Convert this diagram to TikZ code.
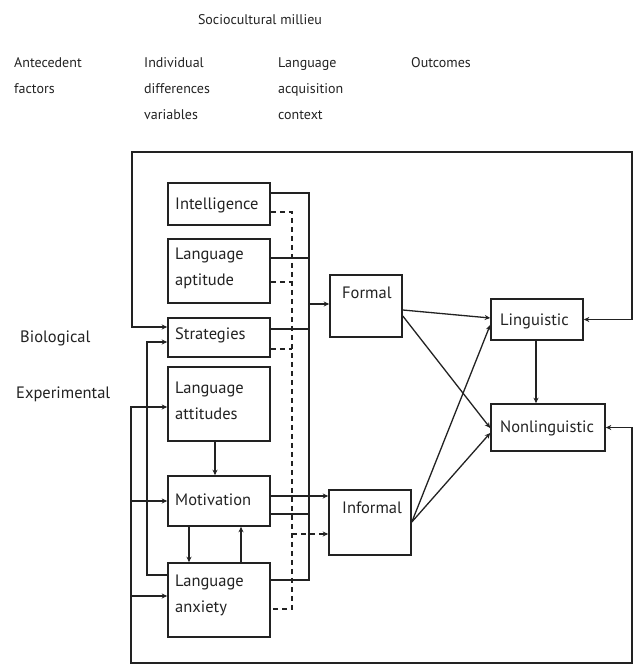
\documentclass[tikz,border=0pt]{standalone}
\usepackage{fontspec}
\setmainfont{PT Sans}
\usetikzlibrary{arrows.meta,calc}
\definecolor{ink}{HTML}{222222}
\begin{document}
\begin{tikzpicture}[x=1pt,y=-1pt,
  box/.style={draw=ink,line width=1.6pt,rectangle,inner sep=0pt},
  txt/.style={anchor=west,align=left,inner sep=0pt,text=ink,font=\fontsize{16.5}{26}\selectfont},
  hdr/.style={txt,font=\fontsize{14}{26}\selectfont},
  ln/.style={draw=ink,line width=1.3pt},
  dsh/.style={draw=ink,line width=1.3pt,dash pattern=on 5pt off 4pt},
  arr/.style={-{Stealth[length=5.5pt,width=5pt]}},
  darr/.style={{Stealth[length=5.5pt,width=5pt]}-{Stealth[length=5.5pt,width=5pt]}}]
\useasboundingbox (0,0) rectangle (636,669);

% header texts
\node[hdr,anchor=center] (soc) at (260,20) {Sociocultural millieu};
\node[hdr,anchor=north west] (ante) at (14,57) {Antecedent\\factors};
\node[hdr,anchor=north west] (indiv) at (144,57) {Individual\\differences\\variables};
\node[hdr,anchor=north west] (lac) at (278,57) {Language\\acquisition\\context};
\node[hdr,anchor=north west] (outc) at (411,57) {Outcomes};
\node[txt] (bio) at (20,338) {Biological};
\node[txt] (exp) at (16,394) {Experimental};

% boxes
\node[box,minimum width=102pt,minimum height=42pt] (intel) at (219,204) {};
\node[box,minimum width=102pt,minimum height=64pt] (apt) at (219,271) {};
\node[box,minimum width=102pt,minimum height=39pt] (strat) at (219,337.5) {};
\node[box,minimum width=102pt,minimum height=74pt] (att) at (219,404) {};
\node[box,minimum width=102pt,minimum height=50pt] (mot) at (219,501) {};
\node[box,minimum width=102pt,minimum height=74pt] (anx) at (219,600) {};
\node[box,minimum width=72pt,minimum height=62pt] (formal) at (366,306) {};
\node[box,minimum width=82pt,minimum height=65pt] (informal) at (370,522.5) {};
\node[box,minimum width=92pt,minimum height=41pt] (ling) at (537,319.5) {};
\node[box,minimum width=114pt,minimum height=47pt] (nonling) at (548,427.5) {};

% box texts
\node[txt] (tintel) at (175,205) {Intelligence};
\node[txt] (tapt) at (175,268.5) {Language\\aptitude};
\node[txt] (tstrat) at (175,335) {Strategies};
\node[txt] (tatt) at (175,400.5) {Language\\attitudes};
\node[txt] (tmot) at (175,500) {Motivation};
\node[txt] (tanx) at (175,595.5) {Language\\anxiety};
\node[txt] (tformal) at (342,293) {Formal};
\node[txt] (tinformal) at (342,508) {Informal};
\node[txt] (tling) at (500,321) {Linguistic};
\node[txt] (tnonling) at (500,428) {Nonlinguistic};

% solid bus
\coordinate (busT) at (309,193);
\coordinate (busB) at (309,580);
\draw[ln] (intel.east |- busT) -- (busT) -- (busB) -- (anx.east |- busB);
\draw[ln] (apt.east |- 0,258) -- (309,258);
\draw[ln] (strat.east |- 0,329) -- (309,329);
\draw[ln] (mot.east |- 0,514) -- (309,514);
\draw[ln,arr] (309,304) -- (formal.west |- 0,304);

% dashed bus
\coordinate (dT) at (292,212);
\coordinate (dB) at (292,609);
\draw[dsh] (intel.east |- dT) -- (dT) -- (dB) -- (anx.east |- dB);
\draw[dsh] (apt.east |- 0,282) -- (292,282);
\draw[dsh] (strat.east |- 0,349) -- (292,349);
\draw[dsh,arr] (292,534) -- (informal.west |- 0,534);

% motivation to informal
\draw[ln,arr] (mot.east |- 0,496) -- (informal.west |- 0,496);

% context to outcomes
\draw[ln,arr] (formal.east |- 0,310) -- (ling.west |- 0,318);
\draw[ln,arr] (formal.east |- 0,316) -- (nonling.west |- 0,428);
\draw[ln,arr] (informal.east |- 0,522) -- (ling.west |- 0,325);
\draw[ln,arr] (informal.east |- 0,522) -- (nonling.west |- 0,433);
\draw[ln,arr] (ling.south -| 536,0) -- (nonling.north -| 536,0);

% top feedback loop
\draw[ln,darr] (ling.east) -- (632,319.5) -- (632,152) -- (132,152) -- (132,327) -- (strat.west |- 0,327);

% bottom feedback loop
\draw[ln,darr] (nonling.east) -- (632,427.5) -- (632,663) -- (131,663) -- (131,407) -- (att.west |- 0,407);
\draw[ln,arr] (131,501) -- (mot.west);
\draw[ln,arr] (131,596) -- (anx.west |- 0,596);

% second left line
\draw[ln,arr] (anx.west |- 0,575) -- (147,575) -- (147,342) -- (strat.west |- 0,342);

% within column
\draw[ln,arr] (att.south -| 215,0) -- (mot.north -| 215,0);
\draw[ln,arr] (mot.south -| 189,0) -- (anx.north -| 189,0);
\draw[ln,arr] (anx.north -| 241,0) -- (mot.south -| 241,0);
\end{tikzpicture}
\end{document}
